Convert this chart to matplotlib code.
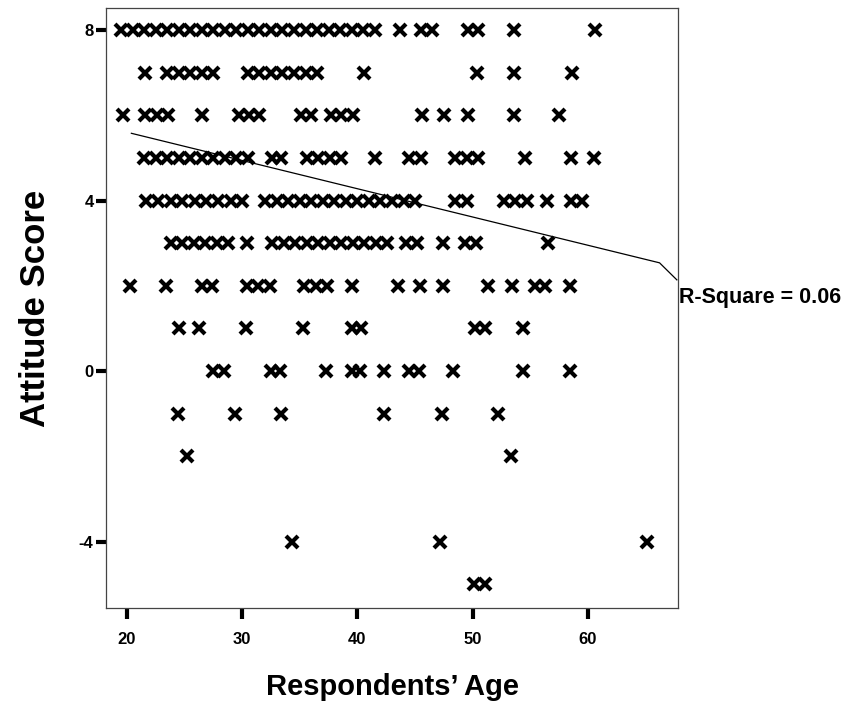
"""attitude score vs respondents' age scatter"""
import matplotlib
matplotlib.use("Agg")
import matplotlib.pyplot as plt

plt.rcParams['font.family'] = ['Liberation Sans', 'DejaVu Sans']
plt.rcParams['axes.unicode_minus'] = False

# ages, one list per attitude score row
age_8 = [19.5, 20.5, 21.5, 22.5, 23.5, 24.5, 25.5, 26.5, 27.5, 28.5, 29.5, 30.5,
         31.5, 32.5, 33.5, 34.5, 35.5, 36.5, 37.5, 38.5, 39.5, 40.5, 41.5,
         43.7, 45.5, 46.5, 49.6, 50.5, 53.6, 60.6]
age_7 = [21.6, 23.5, 24.5, 25.5, 26.5, 27.5, 30.5, 31.5, 32.5, 33.5, 34.5, 35.5,
         36.5, 40.6, 50.4, 53.6, 58.6]
age_6 = [19.7, 21.6, 22.6, 23.6, 26.5, 29.7, 30.6, 31.5, 35.1, 36.0, 37.7, 38.6,
         39.6, 45.6, 47.5, 49.6, 53.6, 57.5]
age_5 = [21.5, 22.5, 23.5, 24.5, 25.5, 26.5, 27.5, 28.5, 29.5, 30.5, 32.6, 33.4,
         35.6, 36.6, 37.6, 38.6, 41.5, 44.5, 45.5, 48.5, 49.5, 50.5, 54.5, 58.5,
         60.5]
age_4 = [21.7, 22.7, 23.8, 24.8, 25.9, 26.9, 27.9, 29.0, 30.0, 32.0, 33.0, 34.0,
         35.0, 36.0, 37.0, 38.0, 39.0, 40.0, 41.0, 42.0, 43.0, 44.0, 45.0, 48.5,
         49.5, 52.7, 53.7, 54.7, 56.4, 58.5, 59.5]
age_3 = [23.8, 24.8, 25.8, 26.8, 27.8, 28.8, 30.4, 32.6, 33.6, 34.6, 35.6, 36.6,
         37.6, 38.6, 39.6, 40.6, 41.6, 42.6, 44.2, 45.2, 47.4, 49.3, 50.3, 56.5]
age_2 = [20.3, 23.4, 26.5, 27.4, 30.4, 31.4, 32.4, 35.4, 36.4, 37.4, 39.5, 43.5,
         45.4, 47.4, 51.3, 53.4, 55.4, 56.3, 58.4]
age_1 = [24.5, 26.3, 30.3, 35.3, 39.5, 40.3, 50.2, 51.1, 54.4]
age_0 = [27.5, 28.4, 32.5, 33.3, 37.3, 39.5, 40.2, 42.3, 44.5, 45.3, 48.3, 54.4,
         58.4]
age_m1 = [24.4, 29.4, 33.4, 42.3, 47.3, 52.2]
age_m2 = [25.2, 53.3]
age_m4 = [34.3, 47.2, 65.1]
age_m5 = [50.1, 51.1]

rows = {8: age_8, 7: age_7, 6: age_6, 5: age_5, 4: age_4, 3: age_3, 2: age_2,
        1: age_1, 0: age_0, -1: age_m1, -2: age_m2, -4: age_m4, -5: age_m5}

# fitted line as drawn, and the bend leading to the label
fit_x = [20.4, 66.2, 67.7]
fit_y = [5.58, 2.54, 2.14]
r_square_label = "R-Square = 0.06"

fig = plt.figure(figsize=(8.59, 7.10), dpi=100)
ax = fig.add_axes([0.1234, 0.1437, 0.6659, 0.845])

for score, ages in rows.items():
    ax.plot(ages, [score] * len(ages), linestyle='none', marker='x',
            markersize=8.2, markeredgewidth=3.0, color='black')

ax.plot(fit_x, fit_y, color='black', linewidth=0.9, clip_on=False)
ax.text(67.85, 1.72, r_square_label, fontsize=15.5, fontweight='bold',
        ha='left', va='center')

ax.set_xlim(18.2, 67.8)
ax.set_ylim(-5.56, 8.52)
ax.set_xticks([20, 30, 40, 50, 60])
ax.set_yticks([-4, 0, 4, 8])
ax.tick_params(axis='x', direction='out', length=8, width=3, pad=9,
               labelsize=12)
ax.tick_params(axis='y', direction='out', length=7, width=3, pad=2,
               labelsize=12)
for lab in ax.get_xticklabels() + ax.get_yticklabels():
    lab.set_fontweight('bold')
for sp in ax.spines.values():
    sp.set_linewidth(0.9)
    sp.set_color('#444444')

ax.set_xlabel("Respondents\u2019 Age", fontsize=21, fontweight='bold',
              labelpad=19)
ax.set_ylabel("Attitude Score", fontsize=25, fontweight='bold', labelpad=19)

fig.savefig("out.png", dpi=100)
